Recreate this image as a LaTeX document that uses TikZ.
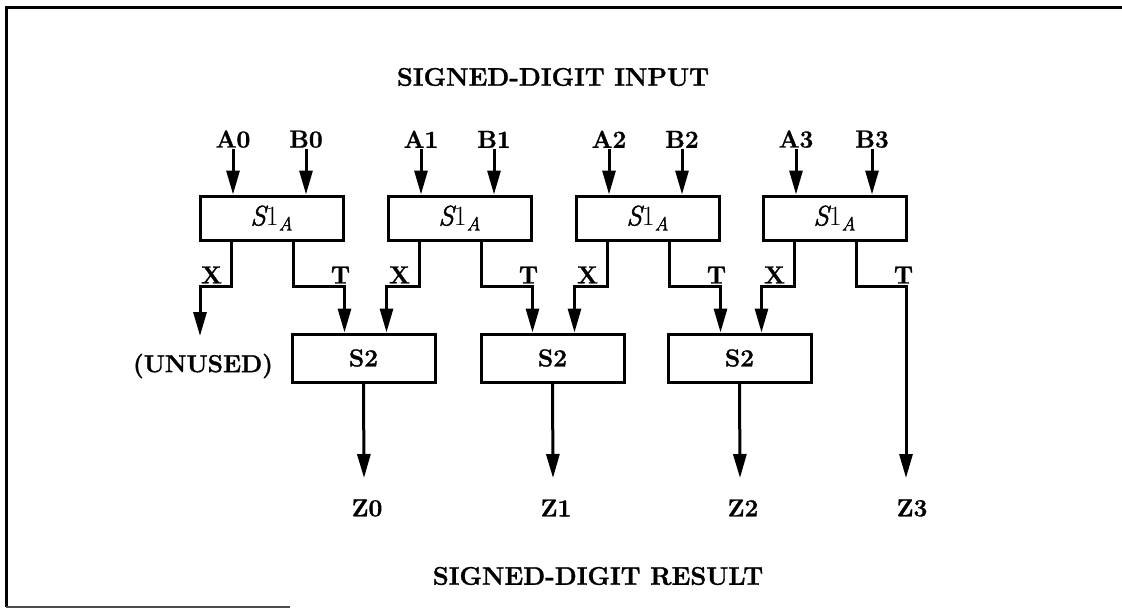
\documentclass[tikz,border=0pt]{standalone}
\usepackage{fontspec}
\setmainfont{Latin Modern Roman}[BoldFeatures={FakeBold=1.2},ItalicFeatures={FakeBold=1.6}]
\usetikzlibrary{arrows.meta,calc}
\newcommand{\sonea}{{\itshape S}1\raisebox{-5pt}{\fontsize{19}{20}\selectfont\itshape A}}
\begin{document}
\begin{tikzpicture}[x=1pt,y=-1pt,
  ln/.style={line width=3pt},
  arr/.style={ln,-{Triangle[length=24pt,width=13pt]}},
  blk/.style={draw,ln,rectangle,minimum width=143pt,inner sep=0pt},
  s1box/.style={blk,minimum height=44pt},
  s2box/.style={blk,minimum height=48pt},
  lbl/.style={font=\fontsize{24.5}{26}\selectfont\bfseries,inner sep=1pt},
  ttl/.style={font=\fontsize{25.5}{28}\selectfont\bfseries,inner sep=0pt},
  mth/.style={font=\fontsize{28}{30}\selectfont}]
\useasboundingbox (0,0) rectangle (1122,613);
% frame
\draw[ln] (6,607) -- (6,7) -- (1122,7);
\draw[line width=1.5pt,black!70] (6,607) -- (290,607);
% titles
\node[ttl] (tin) at (553,77) {SIGNED-DIGIT INPUT};
\node[ttl] (tout) at (598,576) {SIGNED-DIGIT RESULT};
% S1 boxes
\node[s1box,mth] (s10) at (271.5,218) {\sonea};
\node[s1box,mth] (s11) at (459.5,218) {\sonea};
\node[s1box,mth] (s12) at (647.5,218) {\sonea};
\node[s1box,mth] (s13) at (834.5,218) {\sonea};
% S2 boxes
\node[s2box,lbl,inner sep=0pt] (s20) at (363.5,358) {S2};
\node[s2box,lbl,inner sep=0pt] (s21) at (552.5,358) {S2};
\node[s2box,lbl,inner sep=0pt] (s22) at (739.5,358) {S2};
% inputs
\foreach \i/\xa/\xb in {0/233/306,1/421/494,2/609/682,3/796/872}{
  \node[lbl,anchor=south] (a\i) at (\xa,149) {A\i};
  \node[lbl,anchor=south] (b\i) at (\xb,149) {B\i};
  \draw[arr] (a\i.south) -- (a\i.south |- s1\i.north);
  \draw[arr] (b\i.south) -- (b\i.south |- s1\i.north);
}
% X / T labels
\foreach \i in {0,1,2,3}{
  \node[lbl,anchor=south] (x\i) at ($(s1\i.south west)+(13,43)$) {X};
  \node[lbl,anchor=south] (t\i) at ($(s1\i.south east)+(-4,43)$) {T};
}
% unused output
\coordinate (u0) at (200,336);
\node[lbl] (unused) at (203,366) {(UNUSED)};
\draw[arr] ($(s10.south west)+(33,0)$) -- ++(0,45) -| (u0);
% T outputs
\draw[arr] ($(s10.south west)+(95,0)$) -- ++(0,45) -| (s20.north -| s10.east);
\draw[arr] ($(s11.south west)+(95,0)$) -- ++(0,45) -| (s21.north -| s11.east);
\draw[arr] ($(s12.south west)+(95,0)$) -- ++(0,45) -| (s22.north -| s12.east);
\coordinate (e3) at (906,478);
\draw[arr] ($(s13.south west)+(95,0)$) -- ++(0,45) -| (e3);
% X outputs
\draw[arr] ($(s11.south west)+(33,0)$) -- ++(0,45) -| (s20.north -| s11.west);
\draw[arr] ($(s12.south west)+(33,0)$) -- ++(0,45) -| (s21.north -| s12.west);
\draw[arr] ($(s13.south west)+(33,0)$) -- ++(0,45) -| (s22.north -| s13.west);
% S2 outputs
\coordinate (e0) at (364,478);
\coordinate (e1) at (553,478);
\coordinate (e2) at (740,478);
\draw[arr] (s20.south) -- (e0);
\draw[arr] (s21.south) -- (e1);
\draw[arr] (s22.south) -- (e2);
\node[lbl] (z0) at (367,508) {Z0};
\node[lbl] (z1) at (556,508) {Z1};
\node[lbl] (z2) at (743,508) {Z2};
\node[lbl] (z3) at (912,508) {Z3};
\end{tikzpicture}
\end{document}
